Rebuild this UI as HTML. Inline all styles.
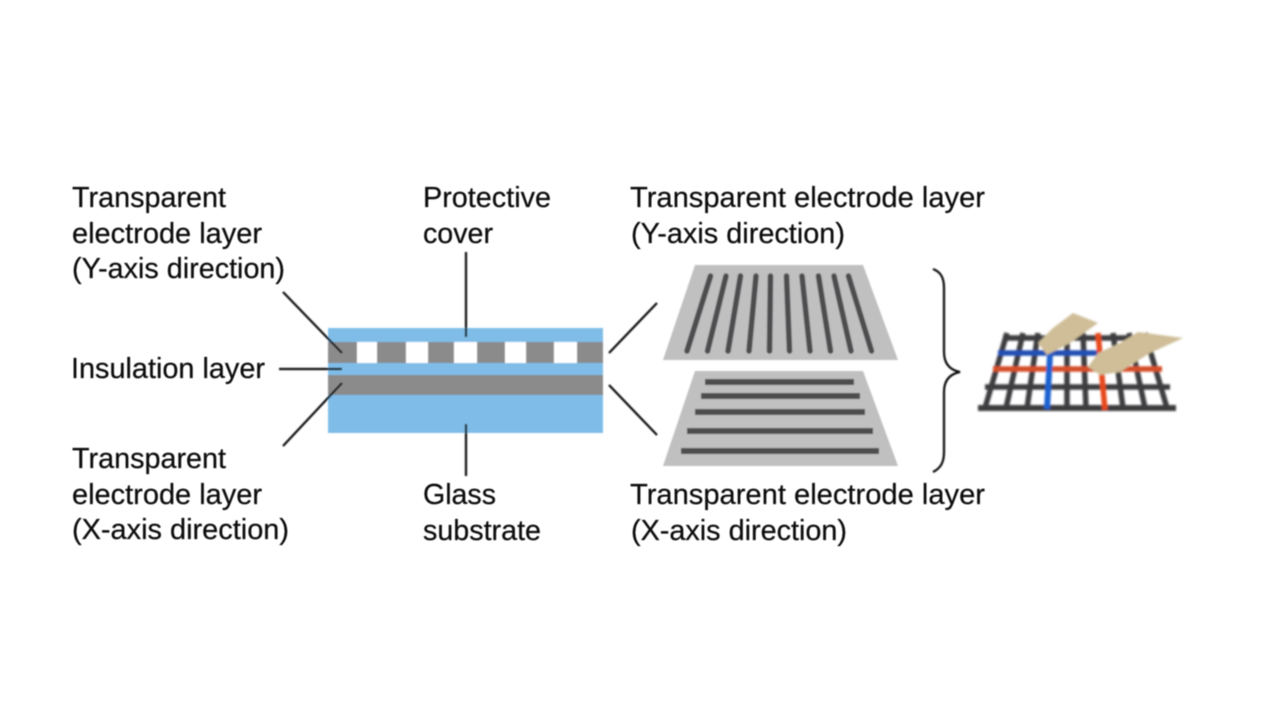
<!DOCTYPE html>
<html><head><meta charset="utf-8"><style>
html,body{margin:0;padding:0;background:#fff;width:1280px;height:719px;overflow:hidden}
svg{display:block}
text{font-family:"Liberation Sans",Arial,sans-serif;font-size:29px;fill:#111;stroke:#111;stroke-width:0.25px}
</style></head><body>
<svg width="1280" height="719" viewBox="0 0 1280 719" xmlns="http://www.w3.org/2000/svg">
<defs>
<filter id="b" x="-5%" y="-5%" width="110%" height="110%"><feGaussianBlur stdDeviation="0.7"/></filter>
<filter id="g" x="-5%" y="-10%" width="110%" height="120%"><feGaussianBlur stdDeviation="1"/></filter>
<filter id="t" x="-5%" y="-5%" width="110%" height="110%"><feGaussianBlur stdDeviation="0.5"/></filter>
</defs>
<g filter="url(#b)">
<rect x="328" y="328" width="275" height="105" fill="#7fbde8"/>
<rect x="328" y="342" width="275" height="21" fill="#8b8b8c"/>
<rect x="357" y="342" width="20" height="21" fill="#fff"/>
<rect x="406" y="342" width="22" height="21" fill="#fff"/>
<rect x="454" y="342" width="23" height="21" fill="#fff"/>
<rect x="505" y="342" width="21" height="21" fill="#fff"/>
<rect x="554" y="342" width="23" height="21" fill="#fff"/>
<rect x="328" y="375" width="275" height="20" fill="#8b8b8c"/>
<g stroke="#0c0c0c" stroke-width="2.2" fill="none">
<line x1="283" y1="292" x2="342" y2="353"/>
<line x1="279" y1="369" x2="342" y2="369"/>
<line x1="283" y1="446" x2="342" y2="383"/>
<line x1="466" y1="252" x2="466" y2="337"/>
<line x1="466" y1="424" x2="466" y2="476"/>
<line x1="609" y1="353" x2="657" y2="303"/>
<line x1="609" y1="385" x2="657" y2="435"/>
<path d="M933 269 C941 272 944 278 944 288 L944 352 C944 364 950 370 960 372 C950 374 944 380 944 392 L944 452 C944 462 941 468 933 472"/>
</g>
<polygon points="695,265 863,265 898,360 663,360" fill="#c0c0c0"/>
<polygon points="695,371 863,371 898,466 663,466" fill="#c0c0c0"/>
<g stroke="#4e4e50" stroke-width="5.5" stroke-linecap="round">
<line x1="710.5" y1="276" x2="687" y2="351"/>
<line x1="726" y1="276" x2="707.5" y2="351"/>
<line x1="740.5" y1="276" x2="728" y2="351"/>
<line x1="756" y1="276" x2="749" y2="351"/>
<line x1="770.5" y1="276" x2="769.5" y2="351"/>
<line x1="786.5" y1="276" x2="789.5" y2="351"/>
<line x1="802" y1="276" x2="810" y2="351"/>
<line x1="818.5" y1="276" x2="830.5" y2="351"/>
<line x1="834" y1="276" x2="851" y2="351"/>
<line x1="848.5" y1="276" x2="871.5" y2="351"/>
</g>
<g fill="#4e4e50">
<rect x="705" y="379" width="149" height="6"/>
<rect x="701" y="393" width="159" height="6"/>
<rect x="695" y="409" width="170" height="6"/>
<rect x="687" y="428" width="186" height="6"/>
<rect x="681" y="448" width="198" height="6"/>
</g>
</g>
<g filter="url(#g)">
<g stroke="#3e3e40" stroke-width="5.5" fill="none">
<line x1="978" y1="408" x2="1176" y2="408" stroke-width="6"/>
<line x1="985" y1="387" x2="1170" y2="387"/>
<line x1="1003" y1="338" x2="1130" y2="338"/>
<line x1="1007" y1="333" x2="985" y2="408"/>
<line x1="1023" y1="333" x2="1006" y2="408"/>
<line x1="1038" y1="333" x2="1027" y2="408"/>
<line x1="1067" y1="333" x2="1067" y2="408"/>
<line x1="1083" y1="333" x2="1086" y2="408"/>
<line x1="1113" y1="333" x2="1123" y2="408"/>
<line x1="1129" y1="333" x2="1145" y2="408"/>
<line x1="1145" y1="333" x2="1167" y2="408"/>
</g>
<line x1="998" y1="353" x2="1098" y2="353" stroke="#2250b4" stroke-width="5.5"/>
<line x1="993" y1="369" x2="1162" y2="369" stroke="#d4502c" stroke-width="5.5"/>
<line x1="1050" y1="355" x2="1047" y2="409" stroke="#1c62d0" stroke-width="6"/>
<line x1="1098" y1="333" x2="1105" y2="410" stroke="#e6481c" stroke-width="5.5"/>
<polygon points="1073,313 1098,323 1070,343 1047,355 1038,343 1053,328" fill="#cfbe98"/>
<polygon points="1138,332 1183,338 1150,353 1120,372 1100,375 1088,367 1098,353 1120,343" fill="#cfbe98"/>
</g>
<g filter="url(#t)">
<text x="72" y="207" textLength="154" lengthAdjust="spacingAndGlyphs">Transparent</text>
<text x="72" y="243" textLength="190" lengthAdjust="spacingAndGlyphs">electrode layer</text>
<text x="72" y="278" textLength="213" lengthAdjust="spacingAndGlyphs">(Y-axis direction)</text>
<text x="71" y="378" textLength="194" lengthAdjust="spacingAndGlyphs">Insulation layer</text>
<text x="72" y="468" textLength="154" lengthAdjust="spacingAndGlyphs">Transparent</text>
<text x="72" y="504" textLength="190" lengthAdjust="spacingAndGlyphs">electrode layer</text>
<text x="72" y="539" textLength="217" lengthAdjust="spacingAndGlyphs">(X-axis direction)</text>
<text x="423" y="207" textLength="128" lengthAdjust="spacingAndGlyphs">Protective</text>
<text x="423" y="243" textLength="70" lengthAdjust="spacingAndGlyphs">cover</text>
<text x="423" y="504" textLength="73" lengthAdjust="spacingAndGlyphs">Glass</text>
<text x="423" y="540" textLength="118" lengthAdjust="spacingAndGlyphs">substrate</text>
<text x="630" y="207" textLength="355" lengthAdjust="spacingAndGlyphs">Transparent electrode layer</text>
<text x="631" y="243" textLength="214" lengthAdjust="spacingAndGlyphs">(Y-axis direction)</text>
<text x="630" y="504" textLength="355" lengthAdjust="spacingAndGlyphs">Transparent electrode layer</text>
<text x="631" y="540" textLength="216" lengthAdjust="spacingAndGlyphs">(X-axis direction)</text>
</g>
</svg>
</body></html>
